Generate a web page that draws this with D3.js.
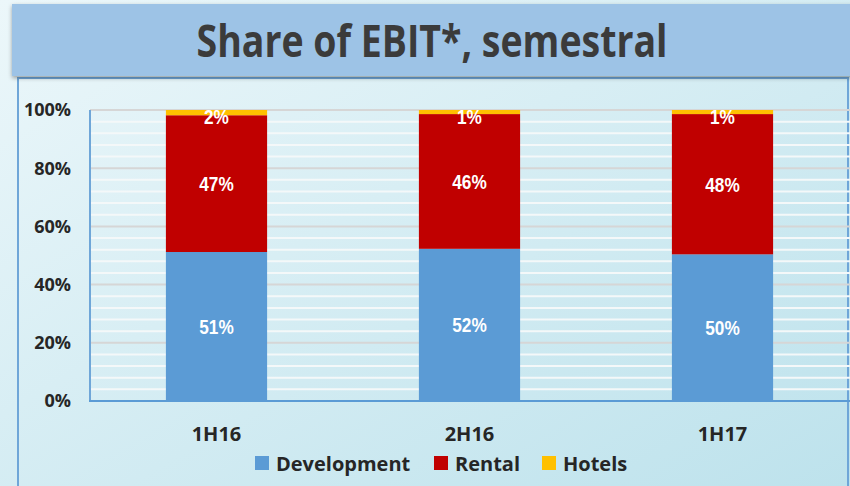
<!DOCTYPE html>
<html>
<head>
<meta charset="utf-8">
<script src="https://cdn.jsdelivr.net/npm/d3@7"></script>
<style>
  body { margin: 0; padding: 0; overflow: hidden; }
  svg { display: block; }
</style>
</head>
<body>
<div id="chart"></div>
<script>

// Data *****
var periods = ["1H16", "2H16", "1H17"];
var seriesNames = ["Development", "Rental", "Hotels"];
var development = [51.2, 52.3, 50.4];
var rental = [47.0, 46.3, 48.2];
var hotels = [1.8, 1.4, 1.4];
var yTicks = [0, 20, 40, 60, 80, 100];
var minorTicks = d3.range(0, 101, 4);

var colors = { Development: "#5b9bd5", Rental: "#c00000", Hotels: "#ffc000" };

var width = 850, height = 486;
var margin = { left: 90, right: 1, top: 110, bottom: 85 };

var svg = d3.select("#chart").append("svg")
	.attr("width", width)
	.attr("height", height);

// Background gradient
var defs = svg.append("defs");
var bg = defs.append("linearGradient")
	.attr("id", "bg")
	.attr("x1", "0").attr("y1", "0")
	.attr("x2", "1").attr("y2", "1");
bg.append("stop").attr("offset", "0%").attr("stop-color", "#ecf7fa");
bg.append("stop").attr("offset", "100%").attr("stop-color", "#bde2ec");

var shadow = defs.append("filter").attr("id", "shadow")
	.attr("x", "-5%").attr("y", "-10%").attr("width", "110%").attr("height", "140%");
shadow.append("feDropShadow")
	.attr("dx", 0).attr("dy", 2).attr("stdDeviation", 2)
	.attr("flood-color", "#000").attr("flood-opacity", 0.35);

svg.append("rect")
	.attr("width", width).attr("height", height)
	.attr("fill", "url(#bg)");

// Plot frame
svg.append("path")
	.attr("d", "M18," + height + "V78H" + (width - 2) + "V" + height)
	.attr("fill", "none")
	.attr("stroke", "#6fa6d8")
	.attr("stroke-width", 2);

// Title box
svg.append("rect")
	.attr("x", 12).attr("y", 4)
	.attr("width", width).attr("height", 72)
	.attr("fill", "#9dc3e6")
	.attr("filter", "url(#shadow)");

// condensed look: squeeze a bigger font into the measured width
svg.append("text")
	.attr("x", 432).attr("y", 57)
	.attr("text-anchor", "middle")
	.attr("font-family", "'Open Sans', sans-serif")
	.attr("font-weight", "bold")
	.attr("font-size", "45px")
	.attr("fill", "#3b3b3b")
	.attr("textLength", 471)
	.attr("lengthAdjust", "spacingAndGlyphs")
	.text("Share of EBIT*, semestral");

// Scales *****
var x = d3.scaleBand()
	.domain(periods)
	.range([margin.left, width - margin.right])
	.paddingInner(0.6)
	.paddingOuter(0.3);

var y = d3.scaleLinear()
	.domain([0, 100])
	.range([height - margin.bottom, margin.top]);

// Gridlines
var grid = svg.append("g");
grid.selectAll("line.minor")
	.data(minorTicks.filter(function(d) { return d % 20 != 0; })).enter()
	.append("line")
	.attr("class", "minor")
	.attr("x1", margin.left).attr("x2", width)
	.attr("y1", function(d) { return y(d); })
	.attr("y2", function(d) { return y(d); })
	.attr("stroke", "#f4f8f9")
	.attr("stroke-width", 2);

grid.selectAll("line.major")
	.data(yTicks.filter(function(d) { return d > 0; })).enter()
	.append("line")
	.attr("class", "major")
	.attr("x1", margin.left).attr("x2", width)
	.attr("y1", function(d) { return y(d); })
	.attr("y2", function(d) { return y(d); })
	.attr("stroke", "#d6d6d6")
	.attr("stroke-width", 2);

// Stacked bars
var rows = periods.map(function(p, i) {
	return { period: p, Development: development[i], Rental: rental[i], Hotels: hotels[i] };
});
var stacked = d3.stack().keys(seriesNames)(rows);

var layers = svg.selectAll("g.layer")
	.data(stacked).enter()
	.append("g")
	.attr("class", "layer")
	.attr("fill", function(d) { return colors[d.key]; });

layers.selectAll("rect")
	.data(function(d) { return d; }).enter()
	.append("rect")
	.attr("x", function(d) { return x(d.data.period); })
	.attr("width", x.bandwidth())
	.attr("y", function(d) { return y(d[1]); })
	.attr("height", function(d) { return y(d[0]) - y(d[1]); });

var labels = layers.selectAll("text")
	.data(function(d) { return d; }).enter()
	.append("text")
	.attr("x", function(d) { return x(d.data.period) + x.bandwidth() / 2; })
	.attr("y", function(d) {
		var mid = (y(d[0]) + y(d[1])) / 2;
		return Math.max(mid, y(100) + 6);
	})
	.attr("dy", "0.36em")
	.attr("text-anchor", "middle")
	.attr("font-family", "'Liberation Sans', Arial, sans-serif")
	.attr("font-weight", "bold")
	.attr("font-size", "21px")
	.attr("fill", "#ffffff")
	.text(function(d) { return Math.round(d[1] - d[0]) + "%"; });

// no narrow font installed, so squash labels to look like Arial Narrow
labels.each(function() {
	var w = this.getComputedTextLength();
	d3.select(this)
		.attr("textLength", w * 0.82)
		.attr("lengthAdjust", "spacingAndGlyphs");
});

// Axes
svg.append("line")
	.attr("x1", margin.left).attr("x2", margin.left)
	.attr("y1", y(100)).attr("y2", y(0))
	.attr("stroke", "#6fa6d8").attr("stroke-width", 2);

svg.append("line")
	.attr("x1", margin.left - 1).attr("x2", width)
	.attr("y1", y(0)).attr("y2", y(0))
	.attr("stroke", "#5b9bd5").attr("stroke-width", 2);

svg.selectAll("text.ytick")
	.data(yTicks).enter()
	.append("text")
	.attr("class", "ytick")
	.attr("x", 71)
	.attr("y", function(d) { return y(d); })
	.attr("dy", "0.36em")
	.attr("text-anchor", "end")
	.attr("font-family", "'Open Sans', sans-serif")
	.attr("font-weight", "bold")
	.attr("font-size", "18px")
	.attr("fill", "#262626")
	.text(function(d) { return d + "%"; });

svg.selectAll("text.xtick")
	.data(periods).enter()
	.append("text")
	.attr("class", "xtick")
	.attr("x", function(d) { return x(d) + x.bandwidth() / 2; })
	.attr("y", 441)
	.attr("text-anchor", "middle")
	.attr("font-family", "'Open Sans', sans-serif")
	.attr("font-weight", "bold")
	.attr("font-size", "20px")
	.attr("fill", "#262626")
	.text(function(d) { return d; });

// Legend
var legendX = [255, 434, 542];
var legend = svg.selectAll("g.legend")
	.data(seriesNames).enter()
	.append("g")
	.attr("class", "legend")
	.attr("transform", function(d, i) { return "translate(" + legendX[i] + ",456)"; });

legend.append("rect")
	.attr("width", 14).attr("height", 14)
	.attr("fill", function(d) { return colors[d]; });

legend.append("text")
	.attr("x", 21).attr("y", 14.5)
	.attr("font-family", "'Open Sans', sans-serif")
	.attr("font-weight", "bold")
	.attr("font-size", "20px")
	.attr("fill", "#262626")
	.text(function(d) { return d; });

</script>
</body>
</html>
